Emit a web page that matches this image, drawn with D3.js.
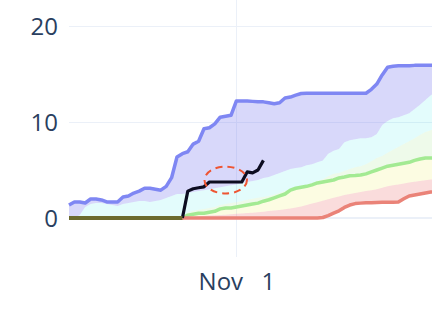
<!DOCTYPE html>
<html>
<head>
<meta charset="utf-8">
<script src="https://cdn.jsdelivr.net/npm/d3@7"></script>
<style>
  html, body { margin: 0; padding: 0; background: #fff; }
  svg { display: block; }
  text { font-family: "Open Sans", "DejaVu Sans", sans-serif; }
</style>
</head>
<body>
<svg id="chart" width="432" height="326"></svg>
<script>
// ---------- data (daily, starting at startDate) ----------
const startDate = "2020-10-01";
const upper = [1.35,1.67,1.67,1.56,1.98,1.98,1.88,1.67,1.67,1.67,2.19,2.29,2.6,2.8,3.1,3.1,3.0,2.9,3.3,4.2,
  6.35,6.7,6.9,7.7,8.0,9.3,9.4,9.8,10.5,10.6,10.7,12.2,12.2,12.2,12.15,12.1,12.1,12.0,11.9,12.0,
  12.5,12.6,12.8,12.97,13.0,13.0,13.0,13.0,13.0,13.0,13.0,13.0,13.0,13.0,13.0,13.0,13.4,13.95,14.9,15.7,
  15.8,15.85,15.85,15.85,15.9,15.9,15.9,15.9,15.9];
const q75 = [0,0,0.3,1.15,1.46,1.56,1.56,1.46,1.35,1.25,1.46,1.56,1.67,1.77,1.77,1.67,1.77,1.88,2.08,2.29,
  2.5,2.5,2.6,2.7,2.8,2.9,3.0,3.1,3.2,3.3,3.4,3.5,3.65,3.75,3.85,3.96,4.17,4.27,4.48,4.69,
  4.9,5.1,5.2,5.3,5.5,5.6,5.8,6.0,6.7,7.0,7.2,7.9,8.1,8.2,8.3,8.3,8.4,8.75,9.7,10.1,
  10.4,10.5,10.7,10.9,11.35,11.8,12.3,12.8,13.1];
const q60 = [0,0,0,0,0,0,0,0,0,0,0,0,0,0,0,0,0,0,0,0,
  0,0,0.6,0.75,0.85,0.95,1.05,1.15,1.35,1.45,1.55,1.65,1.75,1.9,2.0,2.1,2.2,2.3,2.45,2.6,
  2.8,3.0,3.2,3.35,3.45,3.65,3.85,4.05,4.35,4.6,4.7,4.9,5.1,5.3,5.4,5.6,5.9,6.25,6.45,6.8,
  7.1,7.4,7.7,8.0,8.3,8.65,8.95,9.15,9.4];
const median = [0,0,0,0,0,0,0,0,0,0,0,0,0,0,0,0,0,0,0,0,
  0,0,0.3,0.4,0.5,0.5,0.6,0.7,0.95,1.05,1.05,1.15,1.25,1.35,1.45,1.55,1.75,1.9,2.1,2.3,
  2.5,2.9,3.1,3.2,3.3,3.45,3.65,3.75,3.85,3.96,4.17,4.27,4.4,4.43,4.48,4.6,4.8,5.0,5.2,5.4,
  5.5,5.6,5.7,5.8,6.0,6.15,6.25,6.25,6.3];
const q25 = [0,0,0,0,0,0,0,0,0,0,0,0,0,0,0,0,0,0,0,0,
  0,0,0.05,0.1,0.15,0.2,0.25,0.28,0.3,0.35,0.4,0.44,0.48,0.52,0.56,0.6,0.66,0.72,0.78,0.84,
  0.9,1.0,1.1,1.2,1.35,1.5,1.65,1.8,1.95,2.1,2.25,2.4,2.5,2.6,2.7,2.8,2.9,3.0,3.15,3.3,
  3.4,3.5,3.6,3.7,3.78,3.85,3.92,4.0,4.05];
const lower = [0,0,0,0,0,0,0,0,0,0,0,0,0,0,0,0,0,0,0,0,
  0,0,0,0,0,0,0,0,0,0,0,0,0,0,0,0,0,0,0,0,
  0,0,0,0,0,0,0,0.05,0.25,0.5,0.75,1.1,1.35,1.5,1.55,1.58,1.6,1.62,1.63,1.65,
  1.65,1.67,2.0,2.3,2.4,2.5,2.6,2.7,2.75];
const actual = [0,0,0,0,0,0,0,0,0,0,0,0,0,0,0,0,0,0,0,0,
  0,0,2.8,3.05,3.15,3.25,3.75,3.75,3.75,3.75,3.75,3.75,3.75,4.8,4.7,5.0,6.0];
const forecastStartIndex = 21;   // last zero day of the observed series
const highlight = { x0: "2020-10-26T02:00:00Z", x1: "2020-11-02T23:00:00Z", y0: 2.55, y1: 5.35 };
const xTickValues = ["2020-11-01"];
const yTickValues = [0, 10, 20];

// ---------- layout ----------
const W = 432, H = 326;
const plot = { left: 69, top: 0, right: 447, bottom: 257 };

const t0 = new Date(startDate + "T00:00:00Z");
const dates = upper.map((_, i) => d3.utcDay.offset(t0, i));

const x = d3.scaleUtc()
  .domain([t0, d3.utcDay.offset(t0, 70)])
  .range([plot.left, plot.right]);
const y = d3.scaleLinear()
  .domain([-4.0625, 22.71])
  .range([plot.bottom, plot.top]);

const svg = d3.select("#chart");

// gridlines
const grid = svg.append("g");
grid.selectAll("line.h").data(yTickValues.filter(v => v !== 0)).join("line")
  .attr("x1", plot.left).attr("x2", W)
  .attr("y1", d => Math.round(y(d)) + 0.5).attr("y2", d => Math.round(y(d)) + 0.5)
  .attr("stroke", "#ebf0f8").attr("stroke-width", 1);
grid.selectAll("line.v").data(xTickValues.map(s => new Date(s + "T00:00:00Z"))).join("line")
  .attr("x1", d => Math.round(x(d)) + 0.5).attr("x2", d => Math.round(x(d)) + 0.5)
  .attr("y1", plot.top).attr("y2", plot.bottom)
  .attr("stroke", "#ebf0f8").attr("stroke-width", 1);
// zero line
grid.append("line")
  .attr("x1", plot.left).attr("x2", W)
  .attr("y1", y(0)).attr("y2", y(0))
  .attr("stroke", "#ebf0f8").attr("stroke-width", 2);

// bands
const bands = [
  { hi: upper, lo: q75, fill: "rgba(105,105,235,0.26)" },
  { hi: q75, lo: q60, fill: "rgba(0,225,225,0.11)" },
  { hi: q60, lo: median, fill: "rgba(120,220,90,0.13)" },
  { hi: median, lo: q25, fill: "rgba(235,235,60,0.15)" },
  { hi: q25, lo: lower, fill: "rgba(232,80,80,0.2)" }
];
const area = (hi, lo) => d3.area()
  .x((d, i) => x(dates[i]))
  .y0((d, i) => y(lo[i]))
  .y1((d, i) => y(hi[i]))(hi);
svg.append("g").selectAll("path").data(bands).join("path")
  .attr("d", d => area(d.hi, d.lo))
  .attr("fill", d => d.fill);

const line = d3.line().x(d => x(d.t)).y(d => y(d.v));
const toPts = arr => arr.map((v, i) => ({ t: dates[i], v }));

const lines = [
  { data: toPts(upper), color: "#7f87f3", w: 3.5 },
  { data: toPts(median), color: "#a3ea93", w: 3.5 },
  { data: toPts(lower), color: "#ea8378", w: 3.5 }
];
svg.append("g").selectAll("path").data(lines).join("path")
  .attr("d", d => line(d.data))
  .attr("fill", "none")
  .attr("stroke", d => d.color)
  .attr("stroke-width", d => d.w)
  .attr("stroke-linejoin", "round");

// observed series
const actPts = toPts(actual);
svg.append("path")
  .attr("d", line(actPts.slice(forecastStartIndex)))
  .attr("fill", "none").attr("stroke", "#0c0c20")
  .attr("stroke-width", 3.2).attr("stroke-linejoin", "round");
svg.append("path")
  .attr("d", line(actPts.slice(0, forecastStartIndex + 1)))
  .attr("fill", "none").attr("stroke", "#6b6a2e")
  .attr("stroke-width", 3.8);

// highlight ellipse
const ex0 = x(new Date(highlight.x0)), ex1 = x(new Date(highlight.x1));
const ey0 = y(highlight.y0), ey1 = y(highlight.y1);
svg.append("ellipse")
  .attr("cx", (ex0 + ex1) / 2).attr("cy", (ey0 + ey1) / 2)
  .attr("rx", Math.abs(ex1 - ex0) / 2).attr("ry", Math.abs(ey1 - ey0) / 2)
  .attr("fill", "none").attr("stroke", "#ee5533")
  .attr("stroke-width", 2).attr("stroke-dasharray", "7,5");

// axes (labels only)
const yAxis = d3.axisLeft(y).tickValues(yTickValues).tickSize(0).tickPadding(11);
svg.append("g").attr("transform", `translate(${plot.left},0)`).call(yAxis)
  .call(g => g.select(".domain").remove())
  .call(g => g.selectAll("text").attr("fill", "#2a3f5f")
    .style("font-size", "24px").attr("dy", "0.36em"));

const xAxis = d3.axisBottom(x)
  .tickValues(xTickValues.map(s => new Date(s + "T00:00:00Z")))
  .tickFormat(d3.utcFormat("%b %e")).tickSize(0).tickPadding(16);
svg.append("g").attr("transform", `translate(0,${plot.bottom})`).call(xAxis)
  .call(g => g.select(".domain").remove())
  .call(g => g.selectAll("text").attr("fill", "#2a3f5f")
    .attr("xml:space", "preserve")
    .style("font-size", "24px").style("white-space", "pre")
    .style("word-spacing", "3px"));
</script>
</body>
</html>
